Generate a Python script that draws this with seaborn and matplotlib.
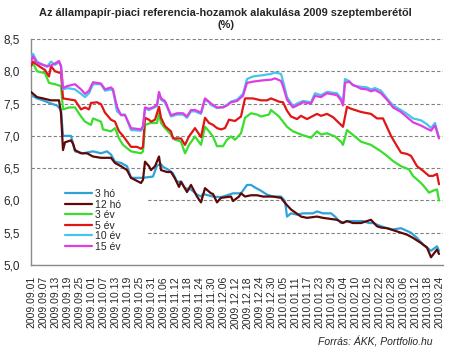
import matplotlib
matplotlib.use('Agg')
import matplotlib.pyplot as plt
import seaborn as sns
import pandas as pd
from matplotlib.patches import Rectangle

START = pd.Timestamp("2009-09-01")

# day offsets from 2009.09.01 and yields (%)
days_3m = [0, 3, 6, 10, 13, 15, 16, 20, 22, 26, 31, 35, 38, 40, 42, 45, 48, 50, 56, 61, 63, 65, 66,
           69, 71, 73, 75, 77, 80, 83, 85, 86, 91, 95, 98, 101, 105, 108, 110, 112, 115, 118, 121,
           125, 127, 128, 130, 133, 136, 141, 143, 146, 150, 152, 155, 158, 161, 166, 169, 171, 175,
           178, 181, 185, 190, 193, 196, 200, 203, 204]
vals_3m = [7.63, 7.58, 7.55, 7.50, 7.47, 7.40, 7.00, 7.00, 6.76, 6.73, 6.76, 6.73, 6.76, 6.71, 6.60,
           6.58, 6.53, 6.35, 6.35, 6.37, 6.54, 6.56, 6.52, 6.47, 6.42, 6.29, 6.29, 6.19, 6.17, 6.09,
           6.06, 6.10, 6.06, 6.05, 6.08, 6.11, 6.11, 6.24, 6.24, 6.20, 6.15, 6.09, 6.06, 6.06, 5.99,
           5.75, 5.80, 5.78, 5.80, 5.80, 5.83, 5.80, 5.80, 5.75, 5.65, 5.68, 5.68, 5.68, 5.65, 5.65,
           5.60, 5.57, 5.55, 5.57, 5.50, 5.42, 5.32, 5.22, 5.29, 5.22]

days_12m = [0, 3, 6, 10, 14, 15, 16, 17, 20, 21, 22, 25, 28, 31, 35, 40, 42, 45, 48, 50, 55, 56, 57,
            59, 60, 62, 64, 65, 68, 70, 72, 74, 75, 78, 80, 83, 85, 87, 90, 91, 93, 95, 100, 101, 104,
            105, 107, 110, 113, 116, 121, 125, 127, 130, 135, 138, 143, 146, 153, 156, 158, 161, 165,
            168, 170, 173, 175, 178, 183, 188, 191, 195, 198, 200, 203, 204]
vals_12m = [7.68, 7.60, 7.58, 7.55, 7.55, 7.35, 6.78, 6.90, 6.93, 6.88, 6.78, 6.73, 6.73, 6.68, 6.66,
            6.66, 6.58, 6.53, 6.47, 6.35, 6.27, 6.32, 6.60, 6.53, 6.47, 6.53, 6.68, 6.47, 6.44, 6.44,
            6.34, 6.21, 6.29, 6.13, 6.24, 6.06, 5.97, 6.19, 6.11, 6.10, 5.97, 6.04, 6.06, 5.99, 6.06,
            6.11, 6.06, 6.08, 6.08, 6.06, 6.06, 6.04, 5.96, 5.86, 5.75, 5.73, 5.75, 5.73, 5.70, 5.65,
            5.68, 5.65, 5.65, 5.68, 5.70, 5.60, 5.58, 5.57, 5.52, 5.47, 5.42, 5.34, 5.27, 5.12, 5.24,
            5.17]

days_3y = [0, 1, 3, 7, 9, 12, 15, 16, 19, 22, 25, 27, 30, 31, 35, 36, 40, 42, 44, 46, 50, 55, 56,
           57, 60, 63, 64, 65, 67, 70, 72, 75, 77, 79, 82, 85, 87, 89, 91, 93, 96, 98, 100, 102, 105,
           107, 110, 113, 115, 119, 120, 122, 124, 126, 128, 131, 135, 138, 140, 143, 145, 148, 152,
           155, 156, 158, 160, 165, 170, 175, 178, 181, 185, 189, 191, 195, 197, 199, 201, 203, 204]
vals_3y = [8.08, 8.13, 8.00, 7.97, 7.82, 7.80, 7.77, 7.41, 7.44, 7.44, 7.30, 7.22, 7.17, 7.27, 7.22,
           7.10, 7.07, 7.12, 6.96, 6.86, 6.76, 6.73, 6.76, 7.17, 7.20, 7.20, 7.35, 7.20, 7.12, 7.02,
           6.94, 6.91, 6.73, 6.86, 6.99, 6.86, 7.14, 7.07, 6.99, 6.84, 6.84, 6.94, 6.99, 6.94, 7.04,
           7.28, 7.35, 7.33, 7.30, 7.33, 7.40, 7.35, 7.30, 7.22, 7.14, 7.07, 7.02, 6.99, 6.97, 7.07,
           7.02, 7.04, 6.99, 6.91, 6.86, 7.09, 7.04, 6.91, 6.86, 6.76, 6.69, 6.61, 6.53, 6.48, 6.38,
           6.27, 6.20, 6.12, 6.15, 6.17, 6.00]

days_5y = [0, 1, 4, 7, 9, 10, 12, 15, 16, 18, 22, 25, 27, 29, 30, 33, 35, 37, 40, 42, 44, 46, 50, 53,
           55, 56, 57, 59, 60, 62, 64, 65, 67, 70, 71, 75, 77, 79, 82, 85, 87, 89, 91, 93, 95, 97,
           99, 102, 105, 107, 111, 115, 118, 120, 124, 126, 128, 130, 133, 135, 138, 143, 145, 148,
           151, 155, 156, 158, 160, 165, 170, 173, 176, 180, 183, 185, 188, 190, 193, 196, 199, 201,
           203, 204]
vals_5y = [8.08, 8.15, 8.08, 8.02, 7.92, 8.08, 8.00, 7.97, 7.58, 7.57, 7.55, 7.41, 7.44, 7.41, 7.51,
           7.52, 7.49, 7.36, 7.25, 7.22, 7.07, 7.00, 6.83, 6.83, 6.80, 6.83, 7.28, 7.25, 7.22, 7.25,
           7.45, 7.28, 7.15, 7.07, 6.96, 6.96, 6.86, 6.99, 7.12, 6.98, 7.28, 7.20, 7.17, 7.12, 7.10,
           7.12, 7.25, 7.23, 7.30, 7.58, 7.58, 7.55, 7.55, 7.58, 7.53, 7.52, 7.39, 7.30, 7.26, 7.31,
           7.26, 7.34, 7.31, 7.34, 7.29, 7.17, 7.14, 7.45, 7.42, 7.37, 7.34, 7.27, 7.27, 7.00, 6.84,
           6.74, 6.72, 6.69, 6.53, 6.46, 6.38, 6.38, 6.41, 6.25]

days_10y = [0, 1, 3, 6, 8, 10, 12, 14, 15, 16, 18, 22, 25, 27, 29, 31, 35, 37, 40, 41, 43, 45, 47,
            50, 55, 56, 57, 59, 61, 63, 64, 65, 67, 70, 73, 76, 78, 80, 82, 85, 87, 89, 90, 93, 96,
            98, 100, 103, 106, 108, 111, 116, 120, 122, 125, 126, 128, 131, 133, 136, 140, 142, 145,
            148, 153, 155, 156, 157, 159, 161, 165, 168, 170, 172, 175, 178, 181, 185, 188, 191, 195,
            198, 200, 202, 204]
vals_10y = [8.20, 8.27, 8.15, 8.10, 8.07, 8.15, 8.10, 8.14, 8.08, 7.72, 7.74, 7.72, 7.65, 7.60, 7.66,
            7.80, 7.80, 7.70, 7.72, 7.70, 7.38, 7.33, 7.33, 7.09, 7.08, 7.12, 7.42, 7.40, 7.43, 7.46,
            7.66, 7.56, 7.52, 7.30, 7.33, 7.33, 7.28, 7.38, 7.38, 7.34, 7.56, 7.52, 7.48, 7.43, 7.45,
            7.48, 7.53, 7.56, 7.65, 7.88, 7.92, 7.94, 7.96, 7.98, 7.96, 7.85, 7.60, 7.46, 7.50, 7.54,
            7.52, 7.66, 7.63, 7.68, 7.66, 7.58, 7.52, 7.88, 7.85, 7.78, 7.76, 7.75, 7.72, 7.74, 7.70,
            7.58, 7.47, 7.40, 7.34, 7.27, 7.24, 7.18, 7.12, 7.20, 6.97]

days_15y = [0, 1, 3, 6, 8, 10, 12, 14, 15, 16, 18, 22, 25, 27, 29, 31, 35, 37, 40, 41, 43, 45, 47,
            50, 55, 56, 57, 59, 61, 63, 64, 65, 67, 70, 73, 76, 78, 80, 82, 85, 87, 89, 90, 93, 96,
            98, 100, 103, 106, 108, 111, 116, 120, 122, 125, 126, 128, 131, 133, 136, 140, 142, 145,
            148, 153, 155, 156, 157, 159, 161, 165, 168, 170, 172, 175, 178, 181, 185, 188, 191, 195,
            198, 200, 202, 204]
vals_15y = [8.15, 8.23, 8.13, 8.10, 8.08, 8.09, 8.12, 8.16, 8.08, 7.74, 7.77, 7.80, 7.72, 7.65, 7.70,
            7.83, 7.81, 7.72, 7.75, 7.72, 7.45, 7.32, 7.32, 7.12, 7.10, 7.15, 7.44, 7.42, 7.44, 7.48,
            7.68, 7.58, 7.54, 7.32, 7.35, 7.35, 7.30, 7.40, 7.40, 7.36, 7.58, 7.53, 7.50, 7.44, 7.44,
            7.47, 7.52, 7.54, 7.62, 7.82, 7.84, 7.86, 7.87, 7.89, 7.85, 7.77, 7.56, 7.44, 7.47, 7.52,
            7.50, 7.62, 7.60, 7.66, 7.63, 7.55, 7.47, 7.82, 7.84, 7.79, 7.73, 7.72, 7.69, 7.71, 7.66,
            7.56, 7.44, 7.37, 7.29, 7.21, 7.16, 7.11, 7.08, 7.16, 6.96]

names = ["3 hó", "12 hó", "3 év", "5 év", "10 év", "15 év"]
colors = ["#2ea2da", "#5e0808", "#3ade2c", "#e01515", "#42c6ec", "#e03ce6"]
y_ticks = [5.0, 5.5, 6.0, 6.5, 7.0, 7.5, 8.0, 8.5]
y_labels = ["5,0", "5,5", "6,0", "6,5", "7,0", "7,5", "8,0", "8,5"]

series = zip(names, [days_3m, days_12m, days_3y, days_5y, days_10y, days_15y],
             [vals_3m, vals_12m, vals_3y, vals_5y, vals_10y, vals_15y])
rows = []
for name, d, v in series:
    for x, y in zip(d, v):
        rows.append({"day": x, "hozam": y, "lejárat": name})
df = pd.DataFrame(rows)

sns.set_style("white")
plt.rcParams['font.family'] = ['Liberation Sans', 'DejaVu Sans']

fig = plt.figure(figsize=(4.51, 3.56), dpi=100)
ax = fig.add_axes([31 / 451, 1 - 265 / 356, 412 / 451, 226 / 356])

sns.lineplot(data=df, x="day", y="hozam", hue="lejárat", hue_order=names,
             palette=dict(zip(names, colors)), linewidth=1.6, estimator=None,
             sort=False, ax=ax, zorder=3)

ax.set_xlim(0, 206)
ax.set_ylim(5.0, 8.5)

tick_days = list(range(0, 205, 6))
ax.set_xticks(tick_days)
ax.set_xticklabels([(START + pd.Timedelta(days=d)).strftime("%Y.%m.%d") for d in tick_days],
                   rotation=90, fontsize=7.5)
ax.set_yticks(y_ticks)
ax.set_yticklabels(y_labels, fontsize=8.5)
ax.tick_params(axis="x", direction="out", length=4, width=0.8, color="#808080", pad=4)
ax.tick_params(axis="y", direction="out", length=4, width=0.8, color="#808080", pad=4)
ax.set_xlabel("")
ax.set_ylabel("")

ax.set_axisbelow(True)
ax.yaxis.grid(True, linestyle=(0, (3, 2)), color="#808080", linewidth=0.8)
for s in ["top", "right"]:
    ax.spines[s].set_visible(False)
for s in ["left", "bottom"]:
    ax.spines[s].set_color("#8a8a8a")
    ax.spines[s].set_linewidth(1.0)

# white box behind the legend hides the gridlines there
ax.add_patch(Rectangle((0.003, 0.035), 0.276, 0.305, transform=ax.transAxes,
                       facecolor="white", edgecolor="none", zorder=1))

sns.move_legend(ax, "upper left", bbox_to_anchor=((65 - 31) / 412, (265 - 189) / 226),
                frameon=False, title=None, fontsize=7.5, handlelength=2.6,
                handletextpad=0.3, labelspacing=0.05, borderpad=0, borderaxespad=0)

fig.text(0.5, 1 - 13 / 356, "Az állampapír-piaci referencia-hozamok alakulása 2009 szeptemberétől",
         ha="center", va="center", fontsize=7.9, fontweight="bold")
fig.text(0.5, 1 - 25 / 356, "(%)", ha="center", va="center", fontsize=7.9, fontweight="bold")
fig.text(432 / 451, 1 - 342 / 356, "Forrás: ÁKK, Portfolio.hu", ha="right", va="center",
         fontsize=7.5, style="italic")

fig.savefig("out.png", dpi=100)
